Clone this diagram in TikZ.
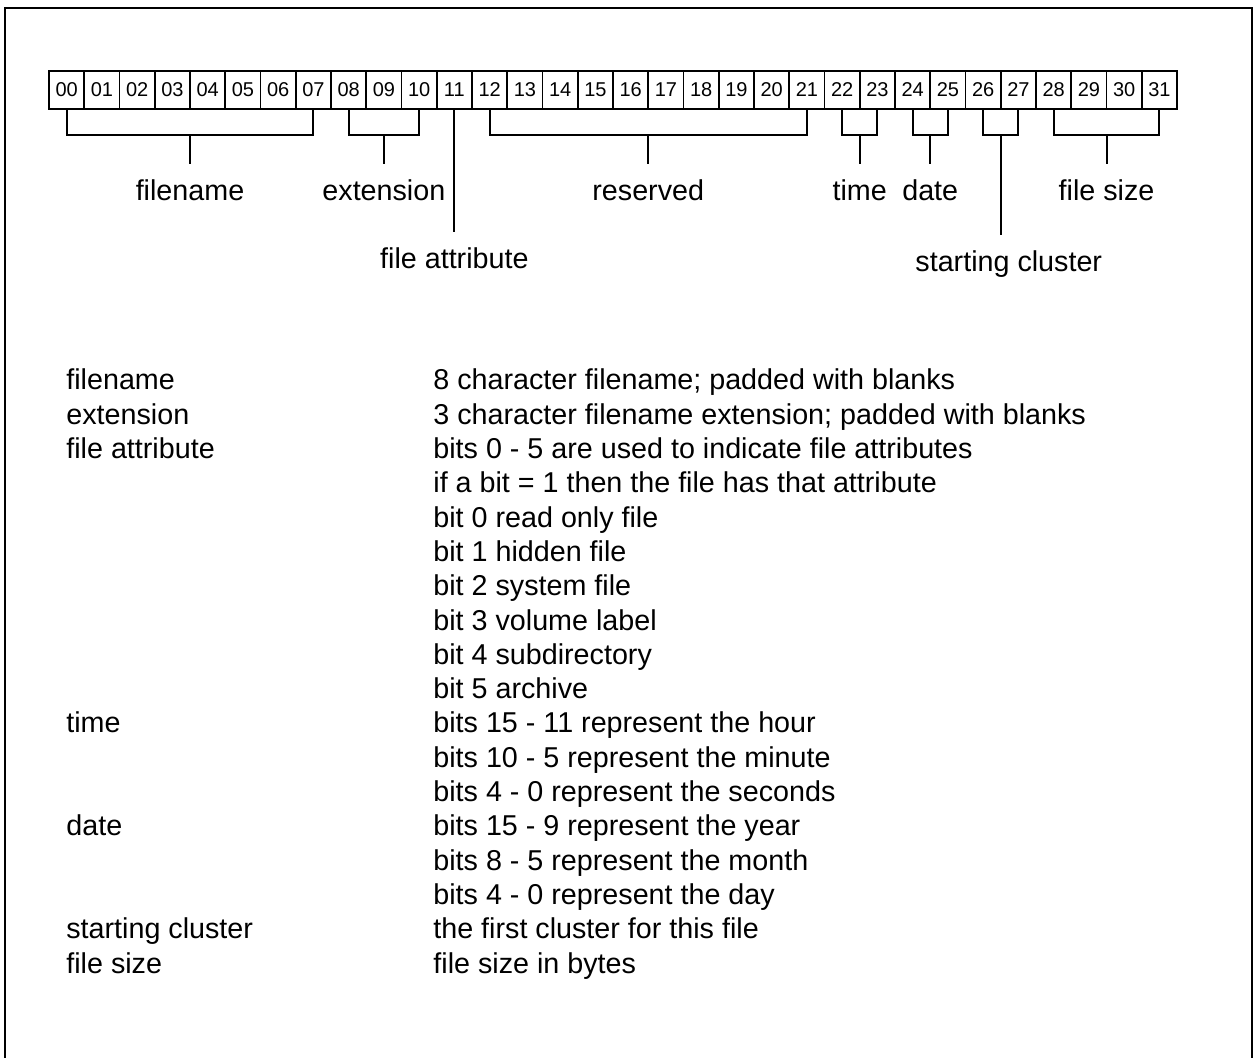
\documentclass[tikz,border=0pt]{standalone}
\usepackage{fontspec}
\setmainfont{Liberation Sans}
\usepackage{tikz}
\usetikzlibrary{positioning, calc}
\tikzset{
  cell/.style={rectangle, draw=black, minimum width=17.625pt, minimum height=19pt,
    inner sep=0pt, line width=0.9pt, font=\fontsize{10}{12}\selectfont},
  lbl/.style={inner xsep=2pt, inner ysep=8pt, text height=10.5pt, text depth=3pt,
    font=\fontsize{14.35}{17}\selectfont},
  desc/.style={anchor=base west, inner sep=0pt, font=\fontsize{14.35}{17}\selectfont},
  line/.style={line width=1pt, color=black},
  frame/.style={line width=1.2pt, color=black}
}

\begin{document}
\begin{tikzpicture}[x=0.5pt, y=-0.5pt]
  \useasboundingbox (0,0) rectangle (1260,1058);

  % Outer frame
  \draw[frame] (5,1058) -- (5,8) -- (1252,8) -- (1252,1058);

  % Byte cells
  \foreach \i in {0,...,31}
    \node[cell] (c\i) at ({66.625+35.25*\i}, 90) {\ifnum\i<10 0\fi\i};

  % Label rows
  \coordinate (row1) at (0,201);
  \coordinate (row2) at (0,269);

  % Field brackets
  \foreach \a/\b/\nm/\txt in {0/7/fname/filename, 8/10/ext/extension,
      12/21/resv/reserved, 22/23/time/time, 24/25/date/date, 28/31/fsize/file size} {
    \draw[line] (c\a.south) -- ++(0,25) -| (c\b.south);
    \coordinate (\nm m) at ($(c\a.south)!0.5!(c\b.south)+(0,25)$);
    \node[lbl, anchor=base] (\nm) at (\nm m |- row1) {\txt};
    \draw[line] (\nm m) -- (\nm.north);
  }

  % Single byte field
  \node[lbl, anchor=base] (fattr) at (c11.south |- row2) {file attribute};
  \draw[line] (c11.south) -- (fattr.north);

  % Starting cluster bracket
  \draw[line] (c26.south) -- ++(0,25) -| (c27.south);
  \coordinate (clus m) at ($(c26.south)!0.5!(c27.south)+(0,25)$);
  \node[lbl, anchor=base] (clus) at ($(clus m |- row2)+(8,3)$) {starting cluster};
  \draw[line] (clus m) -- (clus m |- clus.north);

  % Field names
  \foreach \k/\txt in {1/filename, 2/extension, 3/file attribute, 11/time,
      14/date, 17/starting cluster, 18/file size}
    \node[desc] (n\k) at (66, {390+34.3*(\k-1)}) {\txt};

  % Field descriptions
  \foreach \k/\txt in {1/8 character filename; padded with blanks,
      2/3 character filename extension; padded with blanks,
      3/bits 0 - 5 are used to indicate file attributes,
      4/if a bit = 1 then the file has that attribute,
      5/bit 0 read only file, 6/bit 1 hidden file, 7/bit 2 system file,
      8/bit 3 volume label, 9/bit 4 subdirectory, 10/bit 5 archive,
      11/bits 15 - 11 represent the hour, 12/bits 10 - 5 represent the minute,
      13/bits 4 - 0 represent the seconds, 14/bits 15 - 9 represent the year,
      15/bits 8 - 5 represent the month, 16/bits 4 - 0 represent the day,
      17/the first cluster for this file, 18/file size in bytes}
    \node[desc] (d\k) at (433, {390+34.3*(\k-1)}) {\txt};

\end{tikzpicture}
\end{document}
